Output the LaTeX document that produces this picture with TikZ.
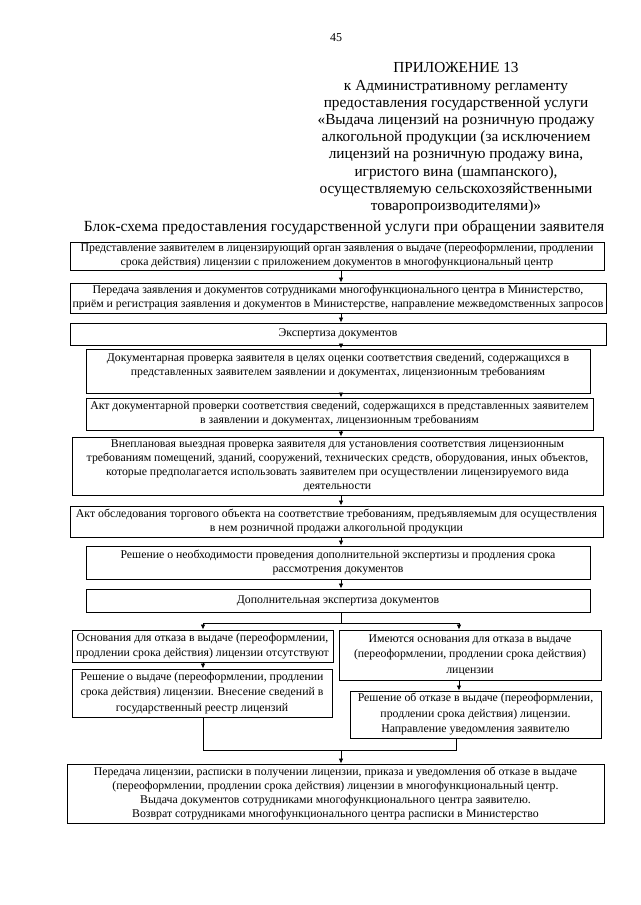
\documentclass[tikz,border=0pt]{standalone}
\usepackage{fontspec}
\setmainfont{Liberation Serif}
\usetikzlibrary{arrows.meta}
\begin{document}
\begin{tikzpicture}[x=1pt,y=-1pt,
  box/.style={draw, line width=0.9pt, inner sep=0pt, align=center, font=\fontsize{11.8}{14}\selectfont},
  sbox/.style={box, font=\fontsize{11.8}{15.5}\selectfont},
  arr/.style={line width=0.8pt, -{Latex[length=5pt,width=4.5pt]}},
  ln/.style={line width=0.8pt}]
\useasboundingbox[fill=white] (0,0) rectangle (640,905);

\node[font=\fontsize{12}{14}\selectfont] (pg) at (336,38) {45};
\node[anchor=north, align=center, inner sep=0pt, font=\fontsize{15.3}{17.2}\selectfont] (hdr) at (456,62.5)
 {ПРИЛОЖЕНИЕ 13\\к Административному регламенту\\предоставления государственной услуги\\«Выдача лицензий на розничную продажу\\алкогольной продукции (за исключением\\лицензий на розничную продажу вина,\\игристого вина (шампанского),\\осуществляемую сельскохозяйственными\\товаропроизводителями)»};
\node[inner sep=0pt, font=\fontsize{15.5}{17}\selectfont] (title) at (344,228) {Блок-схема предоставления государственной услуги при обращении заявителя};

\node[box, minimum width=534pt, minimum height=28pt] (b1) at (337,256)
 {Представление заявителем в лицензирующий орган заявления о выдаче (переоформлении, продлении\\срока действия) лицензии с приложением документов в многофункциональный центр};
\node[box, minimum width=536pt, minimum height=30pt] (b2) at (338,298)
 {Передача заявления и документов сотрудниками многофункционального центра в Министерство,\\приём и регистрация заявления и документов в Министерстве, направление межведомственных запросов};
\node[box, minimum width=536pt, minimum height=22pt] (b3) at (338,334) {Экспертиза документов};
\node[box, minimum width=504pt, minimum height=44pt] (b4) at (338,371)
 {Документарная проверка заявителя в целях оценки соответствия сведений, содержащихся в\\представленных заявителем заявлении и документах, лицензионным требованиям\\\mbox{}};
\node[box, minimum width=507pt, minimum height=32pt] (b5) at (339.5,414)
 {Акт документарной проверки соответствия сведений, содержащихся в представленных заявителем\\в заявлении и документах, лицензионным требованиям};
\node[box, minimum width=531pt, minimum height=58pt] (b6) at (337.5,466)
 {Внеплановая выездная проверка заявителя для установления соответствия лицензионным\\требованиям помещений, зданий, сооружений, технических средств, оборудования, иных объектов,\\которые предполагается использовать заявителем при осуществлении лицензируемого вида\\деятельности};
\node[box, minimum width=533pt, minimum height=31pt] (b7) at (336.5,521.5)
 {Акт обследования торгового объекта на соответствие требованиям, предъявляемым для осуществления\\в нем розничной продажи алкогольной продукции};
\node[box, minimum width=504pt, minimum height=33pt] (b8) at (338,562.5)
 {Решение о необходимости проведения дополнительной экспертизы и продления срока\\рассмотрения документов};
\node[box, minimum width=504pt, minimum height=23pt] (b9) at (338,600.5) {Дополнительная экспертиза документов};
\node[sbox, minimum width=261pt, minimum height=32pt] (b10l) at (202.5,646)
 {Основания для отказа в выдаче (переоформлении,\\продлении срока действия) лицензии отсутствуют};
\node[sbox, minimum width=262pt, minimum height=50pt] (b10r) at (470,655)
 {Имеются основания для отказа в выдаче\\(переоформлении, продлении срока действия)\\лицензии};
\node[sbox, minimum width=260pt, minimum height=48pt] (b11l) at (202,693)
 {Решение о выдаче (переоформлении, продлении\\срока действия) лицензии. Внесение сведений в\\государственный реестр лицензий};
\node[sbox, minimum width=251pt, minimum height=47pt] (b11r) at (475.5,714.5)
 {Решение об отказе в выдаче (переоформлении,\\продлении срока действия) лицензии.\\Направление уведомления заявителю};
\node[box, minimum width=537pt, minimum height=59pt] (b12) at (335.5,793.5)
 {Передача лицензии, расписки в получении лицензии, приказа и уведомления об отказе в выдаче\\(переоформлении, продлении срока действия) лицензии в многофункциональный центр.\\Выдача документов сотрудниками многофункционального центра заявителю.\\Возврат сотрудниками многофункционального центра расписки в Министерство};

\coordinate (ax) at (341,0);
\coordinate (lx) at (203,0);
\coordinate (rx) at (459,0);
\coordinate (rx2) at (456,0);
\coordinate (split) at (341,623);
\coordinate (join) at (341,750);

\draw[arr] (b1.south -| ax) -- (b2.north -| ax);
\draw[arr] (b2.south -| ax) -- (b3.north -| ax);
\draw[arr] (b3.south -| ax) -- (b4.north -| ax);
\draw[arr] (b4.south -| ax) -- (b5.north -| ax);
\draw[arr] (b5.south -| ax) -- (b6.north -| ax);
\draw[arr] (b6.south -| ax) -- (b7.north -| ax);
\draw[arr] (b7.south -| ax) -- (b8.north -| ax);
\draw[arr] (b8.south -| ax) -- (b9.north -| ax);
\draw[ln] (b9.south -| ax) -- (split);
\draw[arr] (split) -| (b10l.north -| lx);
\draw[arr] (split) -| (b10r.north -| rx);
\draw[arr] (b10l.south -| lx) -- (b11l.north -| lx);
\draw[arr] (b10r.south -| rx) -- (b11r.north -| rx);
\draw[ln] (b11l.south -| lx) |- (join);
\draw[ln] (b11r.south -| rx2) |- (join);
\draw[arr] (join) -- (b12.north -| ax);
\end{tikzpicture}
\end{document}
